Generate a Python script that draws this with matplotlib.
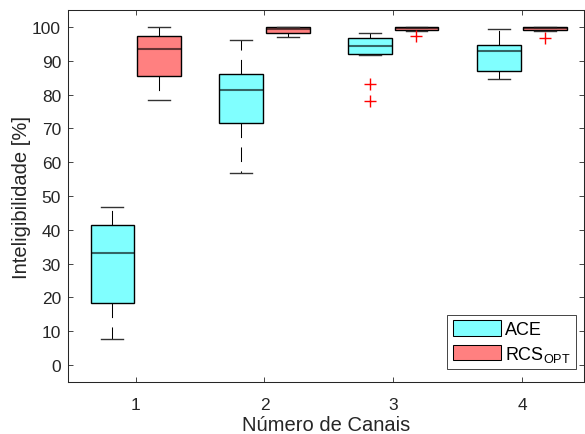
import numpy as np
import matplotlib
matplotlib.use("Agg")
import matplotlib.pyplot as plt
from matplotlib.patches import Patch

plt.rcParams["font.family"] = ["Liberation Sans", "DejaVu Sans"]

# Número de canais
canais = [1, 2, 3, 4]
canal_labels = ["1", "2", "3", "4"]

# ACE: estatisticas
ace_whislo = [7.7, 56.9, 91.8, 84.6]
ace_q1 = [18.3, 71.7, 92.1, 87.0]
ace_med = [33.2, 81.2, 94.3, 92.8]
ace_q3 = [41.5, 86.1, 96.7, 94.8]
ace_whishi = [46.7, 96.2, 98.1, 99.3]
ace_fliers = [[], [], [83.2, 78.1], []]

# RCS_OPT
rcs_whislo = [78.3, 97.0, 98.7, 98.9]
rcs_q1 = [85.5, 98.3, 99.2, 99.1]
rcs_med = [93.4, 99.3, 99.7, 99.7]
rcs_q3 = [97.2, 100.0, 100.0, 100.0]
rcs_whishi = [100.0, 100.0, 100.0, 100.0]
rcs_fliers = [[], [], [97.2], [96.7]]

ace_color = "#80ffff"
rcs_color = "#ff8080"
txt_color = "#262626"


def make_stats(lo, q1, med, q3, hi, fliers):
    stats = []
    for i in range(len(med)):
        stats.append(dict(whislo=lo[i], q1=q1[i], med=med[i], q3=q3[i],
                          whishi=hi[i], fliers=np.array(fliers[i])))
    return stats


fig = plt.figure(figsize=(5.85, 4.35), dpi=100)
ax = fig.add_axes([0.1162, 0.1195, 0.882, 0.8552])

offset = 0.18
width = 0.34
groups = [
    (make_stats(ace_whislo, ace_q1, ace_med, ace_q3, ace_whishi, ace_fliers), -offset, ace_color),
    (make_stats(rcs_whislo, rcs_q1, rcs_med, rcs_q3, rcs_whishi, rcs_fliers), offset, rcs_color),
]

for stats, off, color in groups:
    pos = [c + off for c in canais]
    ax.bxp(stats, positions=pos, widths=width, capwidths=width / 2,
           patch_artist=True, manage_ticks=False,
           boxprops=dict(facecolor=color, edgecolor="k", linewidth=1.0),
           medianprops=dict(color="k", alpha=0.6, linewidth=1.5),
           whiskerprops=dict(color="k", linewidth=0.75, linestyle=(0, (14, 9))),
           capprops=dict(color="#333333", linewidth=1.0),
           flierprops=dict(marker="+", markeredgecolor="red", markersize=8,
                           markeredgewidth=1.0, linestyle="none"))

ax.set_xlim(0.475, 4.48)
ax.set_ylim(-5, 105)
ax.set_xticks(canais)
ax.set_xticklabels(canal_labels)
ax.set_yticks(np.arange(0, 101, 10))

ax.tick_params(direction="in", top=True, right=True, length=3.5,
               width=0.6, labelsize=12.5, colors=txt_color, pad=5)
ax.tick_params(axis="x", pad=11)
for sp in ax.spines.values():
    sp.set_linewidth(0.75)
    sp.set_color(txt_color)

ax.set_xlabel("Número de Canais", fontsize=14.5, color=txt_color, labelpad=2)
ax.set_ylabel("Inteligibilidade [%]", fontsize=14.5, color=txt_color, labelpad=1)

handles = [Patch(facecolor=ace_color, edgecolor="k", linewidth=0.75, label="ACE"),
           Patch(facecolor=rcs_color, edgecolor="k", linewidth=0.75, label=r"RCS$_\mathregular{OPT}$")]
leg = ax.legend(handles=handles, loc="lower right", bbox_to_anchor=(0.985, 0.035),
                fontsize=13, fancybox=False, framealpha=1, edgecolor=txt_color,
                handlelength=2.7, handleheight=0.95, handletextpad=0.2,
                borderpad=0.3, labelspacing=0.3, borderaxespad=0)
leg.get_frame().set_linewidth(0.6)

fig.savefig("out.png", dpi=100)
